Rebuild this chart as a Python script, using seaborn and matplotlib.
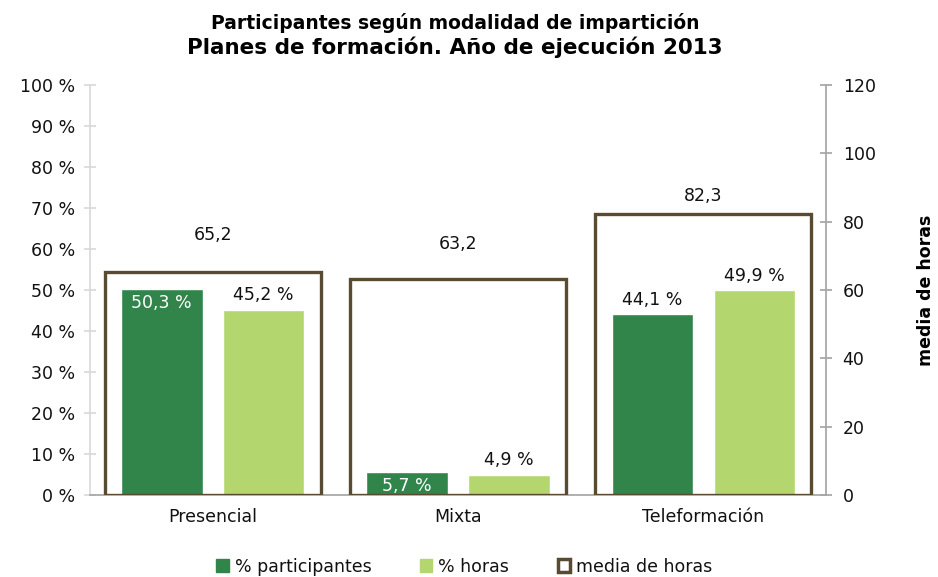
#!/usr/bin/env python3
"""Participantes según modalidad de impartición - planes de formación 2013."""

import matplotlib

matplotlib.use("Agg")

import matplotlib.pyplot as plt
import pandas as pd
import seaborn as sns
from matplotlib.patches import Patch
from matplotlib.ticker import FuncFormatter, MultipleLocator

CATEGORIES = ["Presencial", "Mixta", "Teleformación"]
PCT_PARTICIPANTES = [50.3, 5.7, 44.1]
PCT_HORAS = [45.2, 4.9, 49.9]
MEDIA_HORAS = [65.2, 63.2, 82.3]

SERIES = ["% participantes", "% horas"]
DARK_GREEN = "#31844a"
LIGHT_GREEN = "#b4d66f"
BROWN = "#594a32"
TEXT = "#111111"
FS = 12.5


def fmt_dec(v):
    return f"{v:.1f}".replace(".", ",")


def main():
    sns.set_theme(style="white")
    plt.rcParams["font.family"] = ["DejaVu Sans"]

    df = pd.DataFrame(
        {
            "modalidad": CATEGORIES * 2,
            "serie": [SERIES[0]] * 3 + [SERIES[1]] * 3,
            "valor": PCT_PARTICIPANTES + PCT_HORAS,
        }
    )
    media = pd.DataFrame({"modalidad": CATEGORIES, "media": MEDIA_HORAS})

    fig = plt.figure(figsize=(9.38, 5.77), dpi=100)
    ax = fig.add_axes([0.096, 0.142, 0.7846, 0.711])

    sns.barplot(
        data=df, x="modalidad", y="valor", hue="serie", order=CATEGORIES,
        hue_order=SERIES, palette=[DARK_GREEN, LIGHT_GREEN], width=0.83,
        gap=0.2, saturation=1, legend=False, ax=ax,
    )
    ax.set_ylim(0, 100)
    ax.yaxis.set_major_locator(MultipleLocator(10))
    ax.yaxis.set_major_formatter(FuncFormatter(lambda v, p: f"{int(v)} %"))
    ax.set_xlabel("")
    ax.set_ylabel("")
    ax.tick_params(axis="y", labelsize=FS, length=8, direction="inout",
                   color="#d9d9d9", pad=7, labelcolor=TEXT)
    ax.tick_params(axis="x", labelsize=FS, length=0, pad=9, labelcolor=TEXT)
    for side in ["top", "right"]:
        ax.spines[side].set_visible(False)
    ax.spines["left"].set_color("#d9d9d9")
    ax.spines["bottom"].set_color("#a6a6a6")

    # value labels for percentage bars
    inside_dark = [True, True, False]
    for ci, cont in enumerate(ax.containers):
        vals = PCT_PARTICIPANTES if ci == 0 else PCT_HORAS
        for i, (bar, v) in enumerate(zip(cont, vals)):
            x = bar.get_x() + bar.get_width() / 2
            if ci == 0 and inside_dark[i]:
                ax.annotate(f"{fmt_dec(v)} %", (x, v), xytext=(0, -4),
                            textcoords="offset points", ha="center", va="top",
                            color="white", fontsize=FS)
            else:
                ax.annotate(f"{fmt_dec(v)} %", (x, v), xytext=(0, 4),
                            textcoords="offset points", ha="center", va="bottom",
                            color=TEXT, fontsize=FS)

    ax2 = ax.twinx()
    sns.barplot(
        data=media, x="modalidad", y="media", order=CATEGORIES, width=0.88,
        fill=False, color=BROWN, linewidth=2.4, ax=ax2,
    )
    for p in ax2.patches:
        p.set_edgecolor(BROWN)
        p.set_linewidth(2.4)
    ax2.set_ylim(0, 120)
    ax2.yaxis.set_major_locator(MultipleLocator(20))
    ax2.tick_params(axis="y", labelsize=FS, length=8, direction="inout",
                    color="#a6a6a6", pad=8, labelcolor=TEXT)
    for side in ["top", "left", "bottom"]:
        ax2.spines[side].set_visible(False)
    ax2.spines["right"].set_color("#a6a6a6")
    ax2.set_ylabel("media de horas", fontsize=FS, fontweight="bold",
                   labelpad=30, color="black")
    ax2.set_xlabel("")

    label_offsets = [20, 19, 6]
    for bar, v, off in zip(ax2.patches, MEDIA_HORAS, label_offsets):
        x = bar.get_x() + bar.get_width() / 2
        ax2.annotate(fmt_dec(v), (x, v), xytext=(0, off), textcoords="offset points",
                     ha="center", va="bottom", color=TEXT, fontsize=FS)

    fig.text(0.485, 0.960, "Participantes según modalidad de impartición",
             ha="center", va="center", fontsize=13.5, fontweight="bold", color="black")
    fig.text(0.485, 0.918, "Planes de formación. Año de ejecución 2013",
             ha="center", va="center", fontsize=15.5, fontweight="bold", color="black")

    handles = [
        Patch(facecolor=DARK_GREEN, edgecolor=DARK_GREEN, label=SERIES[0]),
        Patch(facecolor=LIGHT_GREEN, edgecolor=LIGHT_GREEN, label=SERIES[1]),
        Patch(facecolor="white", edgecolor=BROWN, linewidth=2.5, label="media de horas"),
    ]
    leg = fig.legend(handles=handles, loc="center", bbox_to_anchor=(0.495, 0.018),
                     ncol=3, frameon=False, fontsize=FS, handlelength=0.7,
                     handleheight=0.7, handletextpad=0.35, columnspacing=2.8)
    for t in leg.get_texts():
        t.set_color(TEXT)

    fig.savefig("out.png", dpi=100)


if __name__ == "__main__":
    main()
